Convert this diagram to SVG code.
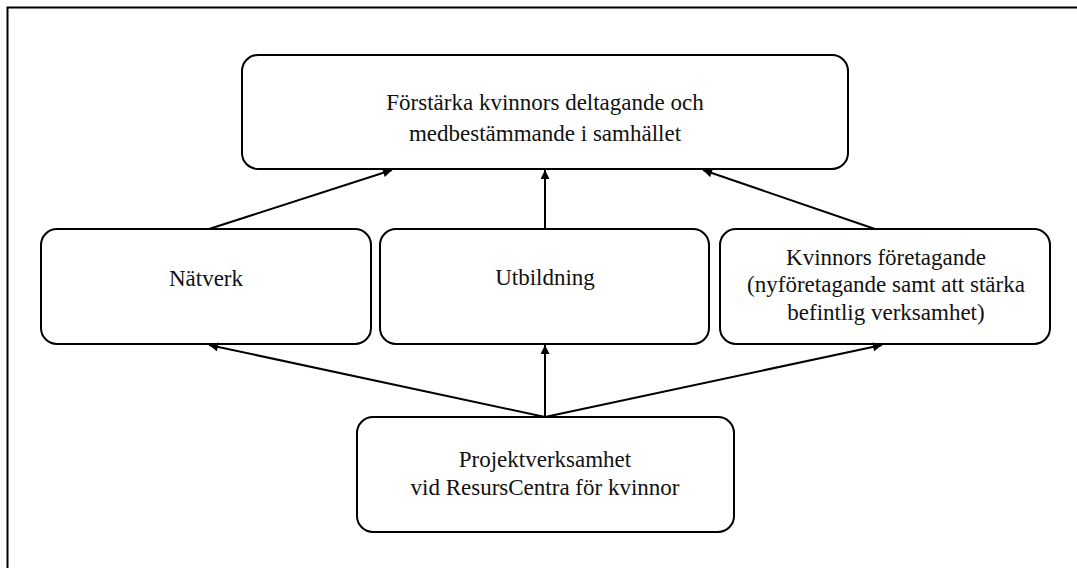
<svg xmlns="http://www.w3.org/2000/svg" width="1077" height="568" viewBox="0 0 1077 568">
<style>
.box{fill:#fff;stroke:#000;stroke-width:2}
.t{font-family:'Liberation Serif','Times New Roman','DejaVu Serif',serif;font-size:23px;fill:#111;text-anchor:middle}
.c{stroke:#000;stroke-width:2;fill:none;marker-end:url(#ah)}
</style>
<defs>
<marker id="ah" viewBox="0 0 10 10" refX="10" refY="5" markerWidth="5.5" markerHeight="4.5" orient="auto" markerUnits="strokeWidth">
<path d="M0,0 L10,5 L0,10 z" fill="#000"/>
</marker>
</defs>
<rect x="0" y="0" width="1077" height="568" fill="#fff"/>
<path d="M7.5,575 V7.5 H1085" fill="none" stroke="#000" stroke-width="2"/>
<g id="n-goal">
<rect class="box" x="242" y="55" width="606" height="114" rx="16"/>
<text class="t" x="545" y="110">Förstärka kvinnors deltagande och</text>
<text class="t" x="545" y="141">medbestämmande i samhället</text>
</g>
<g id="n-natverk">
<rect class="box" x="41" y="229" width="330" height="115" rx="16"/>
<text class="t" x="206" y="286">Nätverk</text>
</g>
<g id="n-utbildning">
<rect class="box" x="380" y="229" width="329" height="115" rx="16"/>
<text class="t" x="545" y="285">Utbildning</text>
</g>
<g id="n-foretagande">
<rect class="box" x="720" y="229" width="330" height="115" rx="16"/>
<text class="t" x="886" y="265">Kvinnors företagande</text>
<text class="t" x="886" y="292">(nyföretagande samt att stärka</text>
<text class="t" x="886" y="320">befintlig verksamhet)</text>
</g>
<g id="n-projekt">
<rect class="box" x="357" y="417" width="377" height="115" rx="16"/>
<text class="t" x="545" y="467">Projektverksamhet</text>
<text class="t" x="545" y="495">vid ResursCentra för kvinnor</text>
</g>
<g id="connectors">
<line class="c" x1="209" y1="229" x2="392" y2="170"/>
<line class="c" x1="545" y1="229" x2="545" y2="170"/>
<line class="c" x1="875" y1="229" x2="703" y2="170"/>
<line class="c" x1="545" y1="417" x2="209" y2="345"/>
<line class="c" x1="545" y1="417" x2="545" y2="345"/>
<line class="c" x1="545" y1="417" x2="882" y2="345"/>
</g>
</svg>
